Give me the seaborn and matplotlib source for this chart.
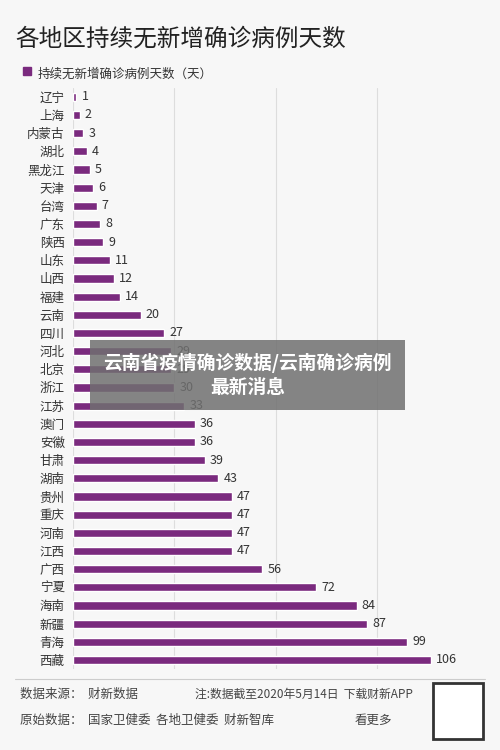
import matplotlib
matplotlib.use("Agg")
import matplotlib.pyplot as plt
import seaborn as sns
import pandas as pd

provinces = ["辽宁","上海","内蒙古","湖北","黑龙江","天津","台湾","广东","陕西","山东","山西","福建","云南","四川","河北","北京","浙江","江苏","澳门","安徽","甘肃","湖南","贵州","重庆","河南","江西","广西","宁夏","海南","新疆","青海","西藏"]
days = [1,2,3,4,5,6,7,8,9,11,12,14,20,27,29,29,30,33,36,36,39,43,47,47,47,47,56,72,84,87,99,106]

sns.set_style("white")
plt.rcParams['font.family'] = ['Noto Sans CJK SC', 'DejaVu Sans']

df = pd.DataFrame({"p": provinces, "d": days})
fig = plt.figure(figsize=(5, 7.5), dpi=100)
fig.patch.set_facecolor("#f7f7f7")
ax = fig.add_axes([0.146, 0.108, 0.77, 0.775])
ax.set_facecolor("#f7f7f7")
sns.barplot(data=df, x="d", y="p", color="#7a2a7e", width=0.45, ax=ax, saturation=1)
ax.set_xlim(0, 114)
ax.set_ylim(len(days) - 0.5, -0.5)
for x in [0, 30, 60, 90]:
    ax.axvline(x, color="#dddddd", lw=0.8, zorder=0)
for i, v in enumerate(days):
    ax.text(v + 1.5, i, str(v), va="center", ha="left", fontsize=9, color="#333333")
ax.set_xlabel(""); ax.set_ylabel("")
ax.set_xticks([])
ax.tick_params(axis="y", length=0, labelsize=9, labelcolor="#333333", pad=6)
for s in ax.spines.values():
    s.set_visible(False)

fig.text(0.03, 0.94, "各地区持续无新增确诊病例天数", fontsize=17, color="#222222")
fig.patches.append(plt.Rectangle((0.045, 0.9), 0.016, 0.011, transform=fig.transFigure, color="#7a2a7e"))
fig.text(0.075, 0.897, "持续无新增确诊病例天数（天）", fontsize=9, color="#333333")

fig.text(0.495, 0.5, "云南省疫情确诊数据/云南确诊病例\n最新消息", ha="center", va="center",
         fontsize=13.5, color="white", fontweight="bold", linespacing=1.3,
         bbox=dict(boxstyle="square,pad=0.7", fc="#707070", ec="none", alpha=0.85),
         multialignment="center")

fig.add_artist(plt.Line2D([0.03, 0.97], [0.095, 0.095], color="#cccccc", lw=0.8))
fig.text(0.04, 0.07, "数据来源：  财新数据", fontsize=9, color="#444444")
fig.text(0.39, 0.07, "注:数据截至2020年5月14日  下载财新APP", fontsize=8.5, color="#444444")
fig.text(0.04, 0.035, "原始数据：  国家卫健委  各地卫健委  财新智库", fontsize=9, color="#444444")
fig.text(0.71, 0.035, "看更多", fontsize=9, color="#444444")
fig.patches.append(plt.Rectangle((0.865, 0.015), 0.1, 0.075, transform=fig.transFigure, fc="white", ec="#333333", lw=2))
fig.savefig("out.png", dpi=100, facecolor=fig.get_facecolor())
